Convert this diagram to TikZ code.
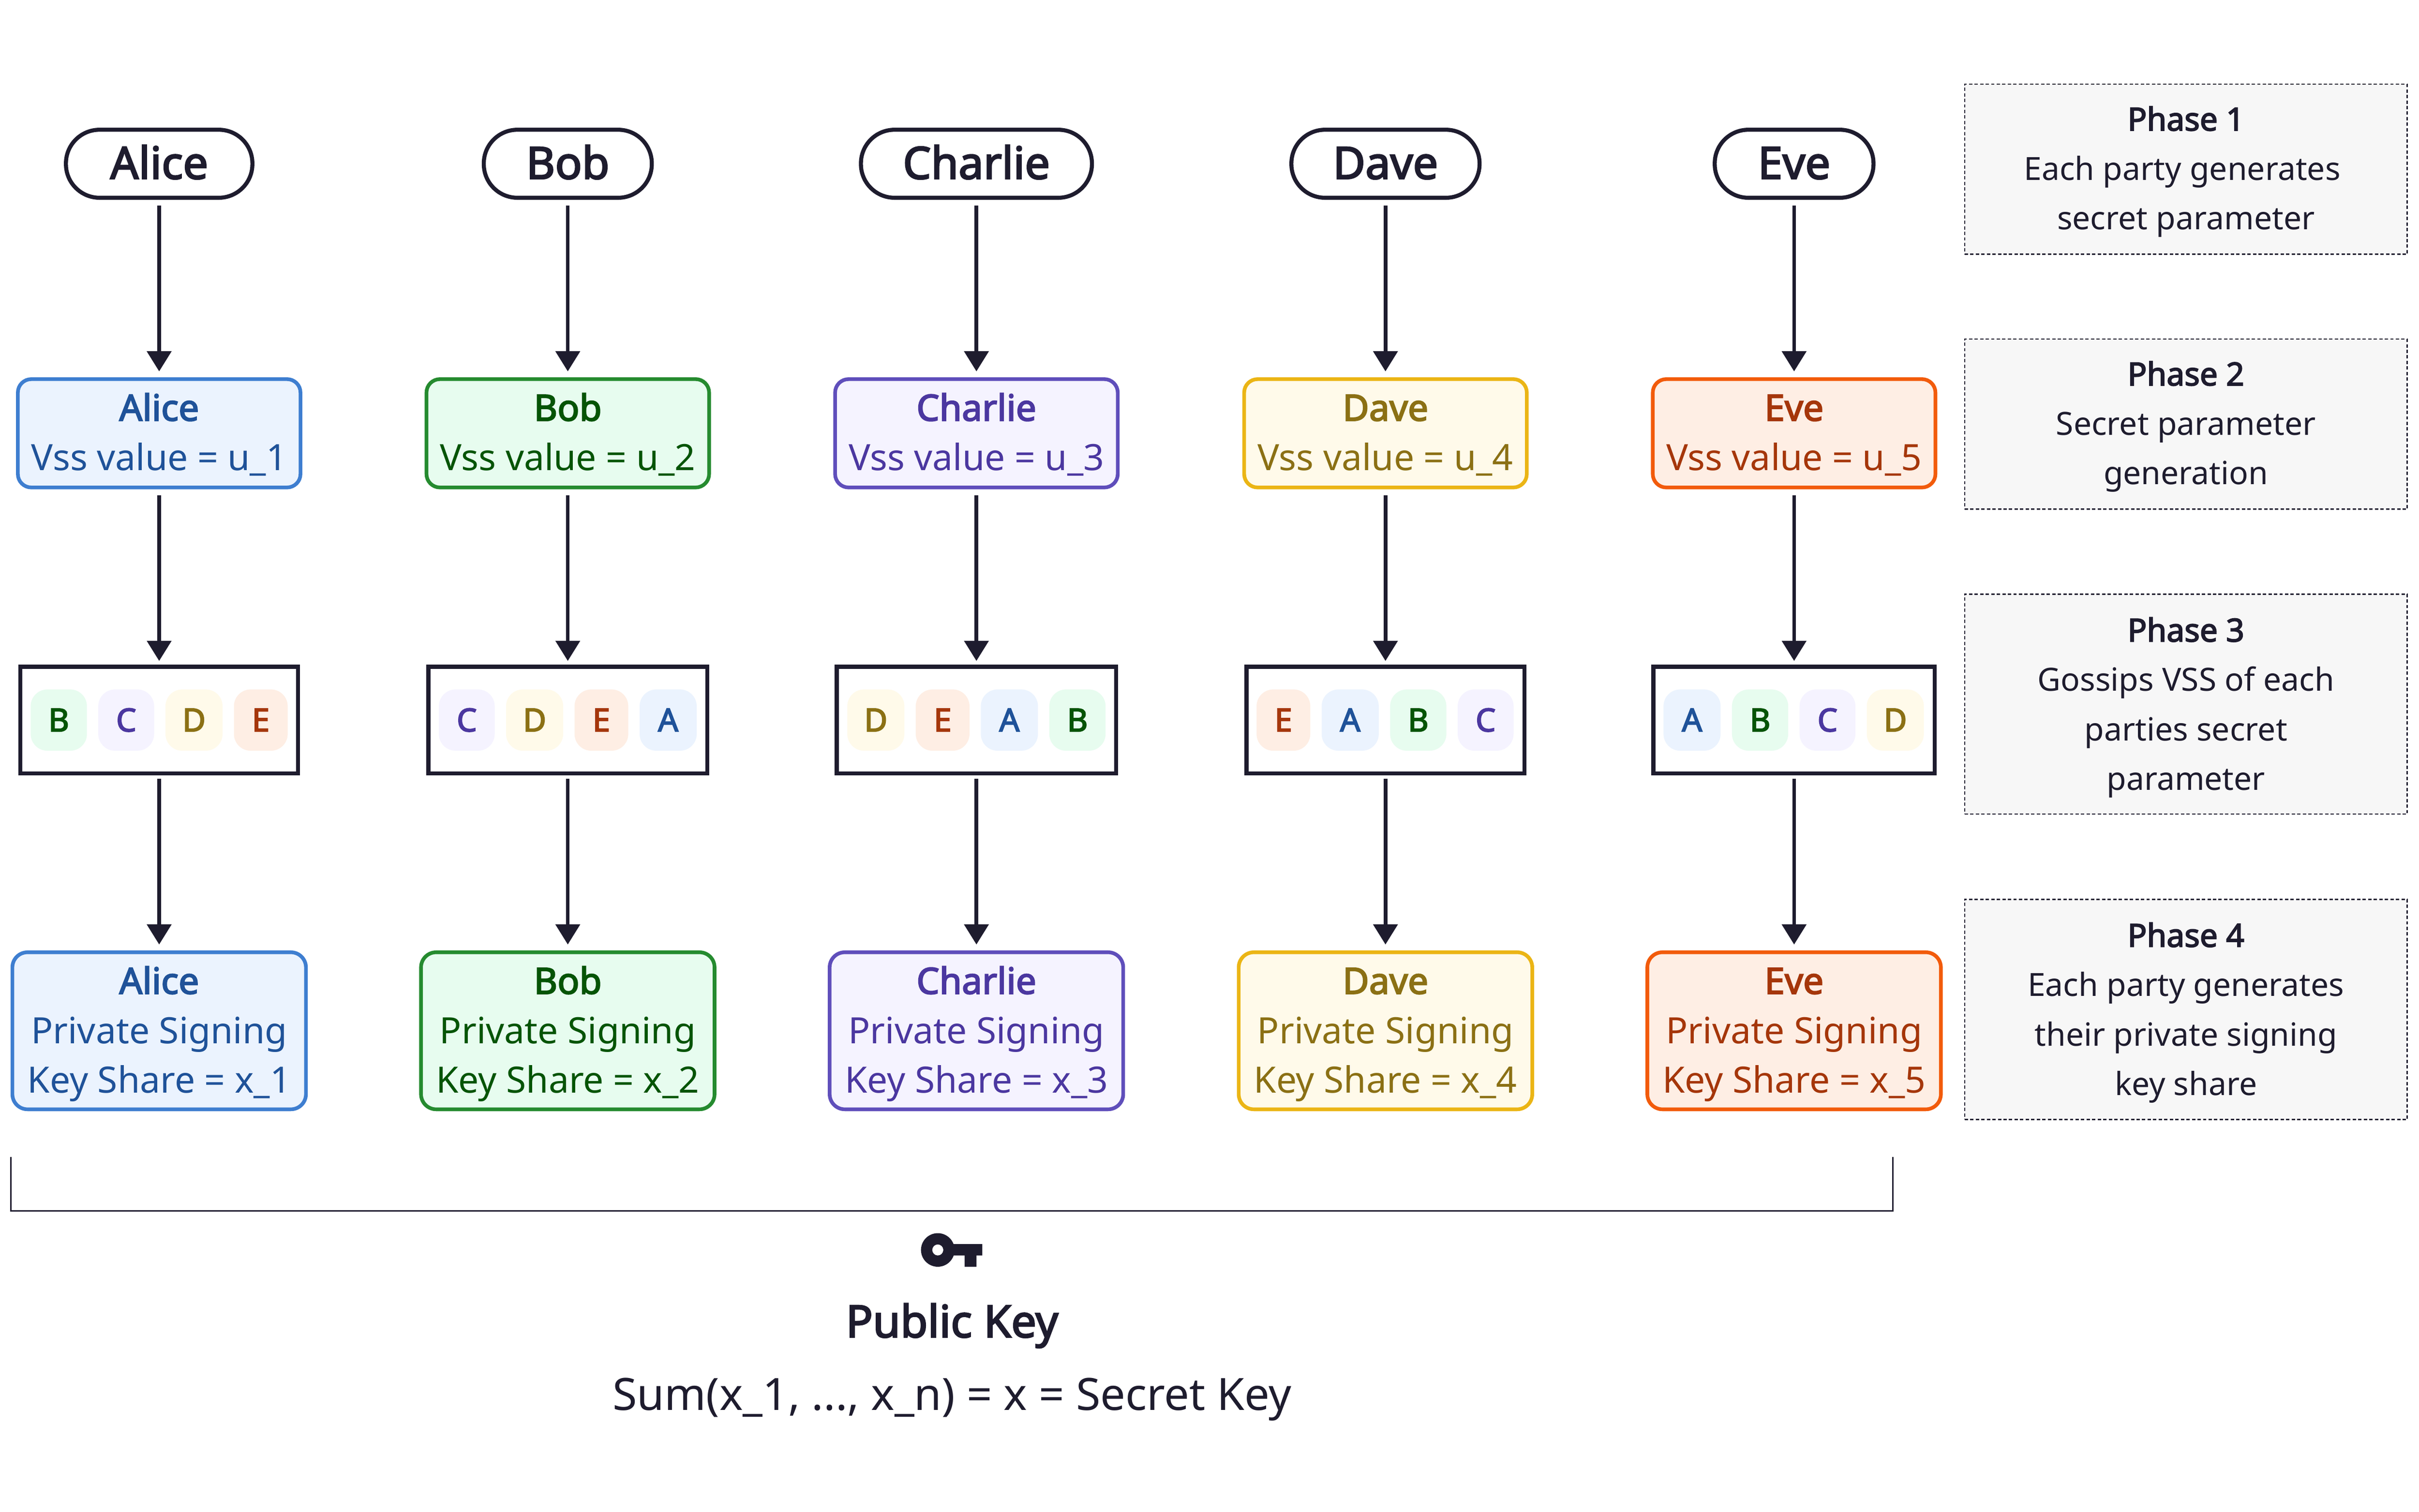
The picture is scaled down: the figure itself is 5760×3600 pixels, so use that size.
\documentclass[tikz,border=0pt]{standalone}
\usepackage{fontspec}
\setmainfont{Noto Sans}[BoldFont={Noto Sans},BoldFeatures={FakeBold=3}]
\usetikzlibrary{arrows.meta}
\definecolor{ink}{HTML}{1E1C2E}
\definecolor{bd1}{HTML}{3E7ED0}\definecolor{fl1}{HTML}{EBF3FE}\definecolor{tx1}{HTML}{1F5299}
\definecolor{bd2}{HTML}{258B2F}\definecolor{fl2}{HTML}{E7FCEF}\definecolor{tx2}{HTML}{055405}
\definecolor{bd3}{HTML}{5F4EBB}\definecolor{fl3}{HTML}{F5F3FF}\definecolor{tx3}{HTML}{4B37A0}
\definecolor{bd4}{HTML}{EBB515}\definecolor{fl4}{HTML}{FFFAEA}\definecolor{tx4}{HTML}{8B7014}
\definecolor{bd5}{HTML}{F25B0B}\definecolor{fl5}{HTML}{FEEEE4}\definecolor{tx5}{HTML}{A5360A}
\newcommand{\topfix}{\rule{0pt}{21pt}}
\newcommand{\botfix}{\rule[-6pt]{0pt}{6pt}}
\newcommand{\fbig}{\fontsize{26.5}{30}\selectfont}
\newcommand{\fmid}{\fontsize{21.6}{29.5}\selectfont}
\newcommand{\fsml}{\fontsize{19}{29.5}\selectfont}
\tikzset{
  pill/.style={draw=ink,line width=2.4pt,fill=white,rounded corners=20pt,minimum height=40.5pt,inner sep=0pt,text=ink,font=\fbig\bfseries},
  vssbox/.style={line width=2.2pt,rounded corners=8pt,minimum width=168.25pt,minimum height=64.5pt,inner sep=0pt,align=center,font=\fmid},
  privbox/.style={line width=2.2pt,rounded corners=9pt,minimum width=174.75pt,minimum height=93.5pt,inner sep=0pt,align=center,font=\fmid},
  gossip/.style={draw=ink,line width=2.4pt,fill=white,minimum height=63.5pt,inner sep=0pt},
  chip/.style={rounded corners=10pt,minimum height=36.5pt,inner sep=0pt,font=\fsml\bfseries},
  chipA/.style={chip,fill=fl1,text=tx1,minimum width=34pt},
  chipB/.style={chip,fill=fl2,text=tx2,minimum width=33.5pt},
  chipC/.style={chip,fill=fl3,text=tx3,minimum width=33.25pt},
  chipD/.style={chip,fill=fl4,text=tx4,minimum width=34pt},
  chipE/.style={chip,fill=fl5,text=tx5,minimum width=32pt},
  flow/.style={draw=ink,line width=2.2pt,-{Triangle[width=14.25pt,length=12pt]},shorten <=3.5pt,shorten >=3.5pt},
  phase/.style={draw=ink,line width=.75pt,dash pattern=on 2pt off 1.3pt,fill=black!3,minimum width=263.5pt,inner sep=0pt,align=center,text=ink,font=\fsml},
  plain/.style={inner sep=0pt,text=ink,anchor=base,font=\fbig},
}
\begin{document}
\begin{tikzpicture}[x=0.25pt,y=-0.25pt]
\useasboundingbox (0,0) rectangle (5760,3600);
\foreach \i/\cx/\nm/\pw/\sw in {1/379/Alice/111/165.5,2/1352/Bob/100/166,3/2325/Charlie/137.5/166.25,4/3299/Dave/112/165.5,5/4272/Eve/94.5/167.5}{
  \node[pill,minimum width=\pw pt] (pill\i) at (\cx,390) {\topfix\rule[-3pt]{0pt}{3pt}\nm};
  \node[vssbox,draw=bd\i,fill=fl\i,text=tx\i] (vss\i) at (\cx,1032) {\topfix\textbf{\nm}\\Vss value = u\_\i\rule[-6.5pt]{0pt}{6.5pt}};
  \node[gossip,minimum width=\sw pt] (gos\i) at (\cx,1715) {};
  \node[privbox,draw=bd\i,fill=fl\i,text=tx\i] (key\i) at (\cx,2455) {\topfix\textbf{\nm}\\Private Signing\\Key Share = x\_\i\botfix};
  \draw[flow] (pill\i) -- (vss\i);
  \draw[flow,shorten >=2.25pt] (vss\i) -- (gos\i);
  \draw[flow,shorten <=2pt] (gos\i) -- (key\i);
}
% chips
\newcommand{\chiptext}[1]{\rule{0pt}{20pt}\rule[-6.5pt]{0pt}{6.5pt}#1}
\foreach \n/\l/\x in {a1/B/140,a2/C/300.5,a3/D/462,a4/E/621,
  b1/C/1111.5,b2/D/1273,b3/E/1432,b4/A/1591,
  c1/D/2085.5,c2/E/2244.5,c3/A/2403.5,c4/B/2565.5,
  d1/E/3056,d2/A/3215,d3/B/3377,d4/C/3537.5,
  e1/A/4029,e2/B/4191,e3/C/4351.5,e4/D/4513}{
  \node[chip\l] (chip\n) at (\x,1715) {\chiptext{\l}};
}
% phases
\node[phase,minimum height=101.25pt] (ph1) at (5205,403) {\rule{0pt}{19pt}\textbf{Phase 1}\\Each party generates\rule{4.4pt}{0pt}\\secret parameter\botfix};
\node[phase,minimum height=101.25pt] (ph2) at (5205,1010) {\rule{0pt}{19pt}\textbf{Phase 2}\\Secret parameter\\generation\botfix};
\node[phase,minimum height=131pt] (ph3) at (5205,1677) {\rule{0pt}{20pt}\textbf{Phase 3}\\Gossips VSS of each\\parties secret\\parameter\botfix};
\node[phase,minimum height=131pt] (ph4) at (5205,2404) {\rule{0pt}{20pt}\textbf{Phase 4}\\Each party generates\\their private signing\\key share\botfix};
% bracket
\coordinate (brL) at (26,2755);
\coordinate (brR) at (4507,2755);
\coordinate (brM) at (26,2884);
\draw[ink,line width=.75pt] (brL) -- (brM) -| (brR);
% key
\fill[ink,even odd rule] (2233,2977) circle (10pt) (2233,2977) circle (3.3pt);
\fill[ink] (2265,2963) rectangle (2339,2990) (2297,2985) rectangle (2325,3017);
\node[plain,font=\fbig\bfseries] (pub) at (2267,3185) {Public Key};
\node[plain] (sum) at (2267,3359) {Sum(x\_1, ..., x\_n) = x = Secret Key};
\end{tikzpicture}
\end{document}
